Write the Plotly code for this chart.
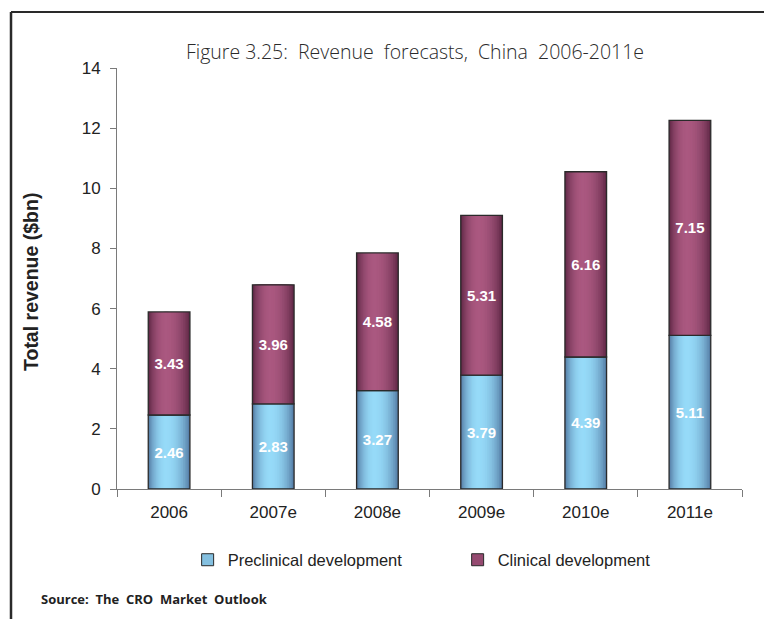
import math
import plotly.graph_objects as go

# Revenue forecasts, China ($bn)
years = ["2006", "2007e", "2008e", "2009e", "2010e", "2011e"]
preclinical = [2.46, 2.83, 3.27, 3.79, 4.39, 5.11]
clinical = [3.43, 3.96, 4.58, 5.31, 6.16, 7.15]
series_names = ["Preclinical development", "Clinical development"]
y_ticks = [0, 2, 4, 6, 8, 10, 12, 14]

BAR_W = 0.40
N_LAYERS = 14
HIGHLIGHT = -0.15  # highlight position across the bar, in [-1, 1]

# (edge colour, highlight colour) for the cylinder shading
shades = [((76, 112, 154), (150, 218, 248)),
          ((86, 34, 62), (170, 88, 128))]


def mix(a, b, t):
    return "rgb(%d,%d,%d)" % tuple(round(a[i] + (b[i] - a[i]) * t) for i in range(3))


fig = go.Figure()

bases = [[0] * len(years), preclinical]
values = [preclinical, clinical]

for s, (vals, base) in enumerate(zip(values, bases)):
    edge, light = shades[s]
    # nested layers, each narrower and lighter, give a rounded look
    for j in range(N_LAYERS):
        f = 1 - j / N_LAYERS
        centre = HIGHLIGHT * (1 - f) * BAR_W / 2
        half = f * BAR_W / 2
        d = max(0.0, f - 0.5 / N_LAYERS)
        t = math.cos(d * math.pi / 2) ** 0.7
        fig.add_trace(go.Bar(
            x=years, y=vals, base=base,
            width=2 * half, offset=centre - half,
            marker=dict(color=mix(edge, light, t), line=dict(width=0)),
            showlegend=False, hoverinfo="skip",
        ))
    # outline + value labels
    fig.add_trace(go.Bar(
        x=years, y=vals, base=base,
        width=BAR_W, offset=-BAR_W / 2,
        marker=dict(color="rgba(0,0,0,0)", line=dict(color="#2a2a2a", width=1.3)),
        text=["%.2f" % v for v in vals],
        textposition="inside", insidetextanchor="middle", textangle=0,
        textfont=dict(family="Liberation Sans", size=15, color="white", weight="bold"),
        showlegend=False, hoverinfo="skip",
    ))

# legend entries
for s, name in enumerate(series_names):
    edge, light = shades[s]
    fig.add_trace(go.Bar(
        x=[None], y=[None], name=name,
        marker=dict(color=mix(edge, light, 0.75), line=dict(color="#2a2a2a", width=1)),
    ))

fig.update_layout(
    width=764, height=619,
    margin=dict(l=117, r=22, t=68, b=130),
    paper_bgcolor="white", plot_bgcolor="white",
    barmode="overlay",
    title=dict(
        text="Figure 3.25:  Revenue  forecasts,  China  2006-2011e",
        x=415 / 764, xanchor="center", xref="container",
        y=1 - 52 / 619, yanchor="middle", yref="container",
        font=dict(family="Open Sans", size=19.5, color="#2a2a2a", weight=300),
    ),
    font=dict(family="Liberation Sans", color="#222222"),
    legend=dict(
        orientation="h", x=0.545, xanchor="center",
        y=-(560 - 489) / 421, yanchor="middle",
        font=dict(family="Liberation Sans", size=16.5, color="#222222"),
        traceorder="normal", itemwidth=30,
        entrywidth=225, entrywidthmode="pixels",
    ),
    showlegend=True,
)

fig.update_xaxes(
    type="category", range=[-0.5, 5.5],
    showline=True, linecolor="#7a7a7a", linewidth=1,
    ticks="outside", tickson="boundaries", ticklen=7, tickcolor="#7a7a7a",
    tickfont=dict(size=17, color="#222222"),
    ticklabelstandoff=8,
    showgrid=False, zeroline=False,
)
fig.update_yaxes(
    range=[0, 14], tickvals=y_ticks,
    showline=True, linecolor="#7a7a7a", linewidth=1,
    ticks="outside", ticklen=6, tickcolor="#7a7a7a",
    tickfont=dict(size=17, color="#222222"),
    ticklabelstandoff=6,
    showgrid=False, zeroline=False,
)

# frame lines (top and left)
fig.add_shape(type="line", xref="paper", yref="paper",
              x0=(11 - 117) / 625, x1=(764 - 117) / 625,
              y0=1 + (68 - 12) / 421, y1=1 + (68 - 12) / 421,
              line=dict(color="#2a2a2a", width=2))
fig.add_shape(type="line", xref="paper", yref="paper",
              x0=(11 - 117) / 625, x1=(11 - 117) / 625,
              y0=1 + (68 - 12) / 421, y1=-(625 - 489) / 421,
              line=dict(color="#2a2a2a", width=2.5))

# y-axis title
fig.add_annotation(
    text="<b>Total revenue ($bn)</b>", textangle=-90,
    xref="paper", yref="paper",
    x=(31 - 117) / 625, y=(489 - 282) / 421,
    xanchor="center", yanchor="middle", showarrow=False,
    font=dict(family="Liberation Sans", size=19.5, color="#222222"),
)

# source note
fig.add_annotation(
    text="<b>Source:  The  CRO  Market  Outlook</b>",
    xref="paper", yref="paper",
    x=(39 - 117) / 625, y=-(599 - 489) / 421,
    xanchor="left", yanchor="middle", showarrow=False,
    font=dict(family="Open Sans", size=13, color="#222222"),
)

fig.write_html("out.html")
